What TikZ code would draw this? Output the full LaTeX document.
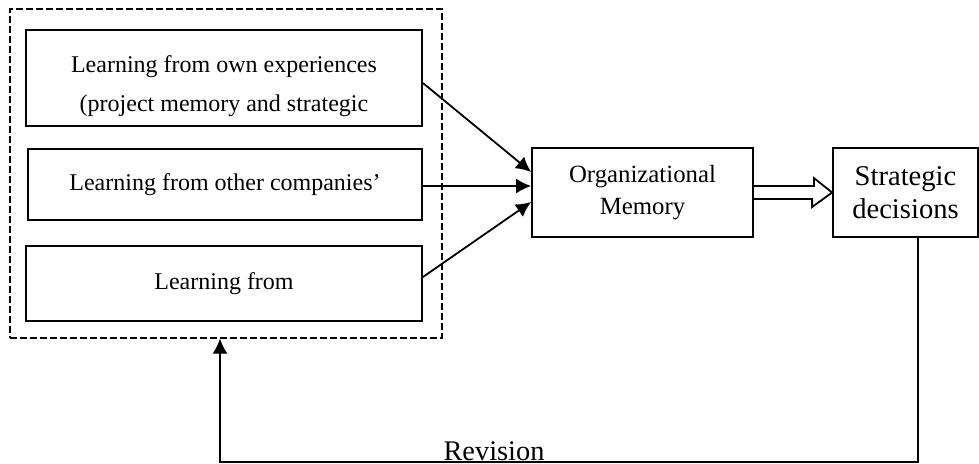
\documentclass[tikz,border=0pt]{standalone}
\usepackage{fontspec}
\setmainfont{Liberation Serif}
\usetikzlibrary{arrows.meta,calc}
\begin{document}
\begin{tikzpicture}[x=0.5pt,y=-0.5pt,
  box/.style={draw,line width=0.9pt,inner sep=0pt,align=center},
  >={Latex[length=7.5pt,width=7.5pt]}]
\useasboundingbox (0,0) rectangle (979,463);
\node (grp) at (226,173.5) [draw,dash pattern=on 3.3pt off 1.7pt,line width=0.7pt,minimum width=216pt,minimum height=164.5pt] {};
\node (own) at (224,78) [box,minimum width=198pt,minimum height=48pt,font=\fontsize{12}{19.5}\selectfont] {\raisebox{-6.3pt}[0pt][0pt]{\begin{tabular}{@{}c@{}}Learning from own experiences\\(project memory and strategic\end{tabular}}};
\node (other) at (225,184.5) [box,minimum width=197pt,minimum height=35.5pt,font=\fontsize{12}{19.5}\selectfont] {Learning from other companies'};
\node (lfrom) at (224,283.5) [box,minimum width=198pt,minimum height=37.5pt,font=\fontsize{12}{19.5}\selectfont] {Learning from};
\node (orgmem) at (642.5,192.5) [box,minimum width=110.5pt,minimum height=44.5pt,font=\fontsize{12.4}{16}\selectfont] {Organizational\\Memory};
\node (strat) at (905.5,192.5) [box,minimum width=72.5pt,minimum height=44.5pt,font=\fontsize{14.3}{16.5}\selectfont] {Strategic\\decisions};
\draw[->,line width=0.9pt] ($(own.east)+(0,5)$) -- ($(orgmem.west)+(0,-20.5)$);
\draw[->,line width=0.9pt] ($(other.east)+(0,1.5)$) -- ($(other.east -| orgmem.west)+(0,1.5)$);
\draw[->,line width=0.9pt] ($(lfrom.east)+(0,-6.5)$) -- ($(orgmem.west)+(0,9.5)$);
% hollow arrow
\draw[line width=0.9pt] ($(orgmem.east)+(0,-6.5)$) -- ++(60,0) -- ++(0,-8) -- (strat.west)
  -- ++(-20,14.5) -- ++(0,-8) -- ++(-60,0);
% revision loop
\coordinate (fbr) at (918,462);
\coordinate (fbl) at (220,462);
\draw[->,line width=0.6pt] (strat.south -| fbr) -- (fbr) -- (fbl) -- (fbl |- grp.south);
\node (rev) at (494,460) [anchor=base,inner sep=0pt,text depth=0pt,font=\fontsize{14.2}{17}\selectfont] {Revision};
\end{tikzpicture}
\end{document}
